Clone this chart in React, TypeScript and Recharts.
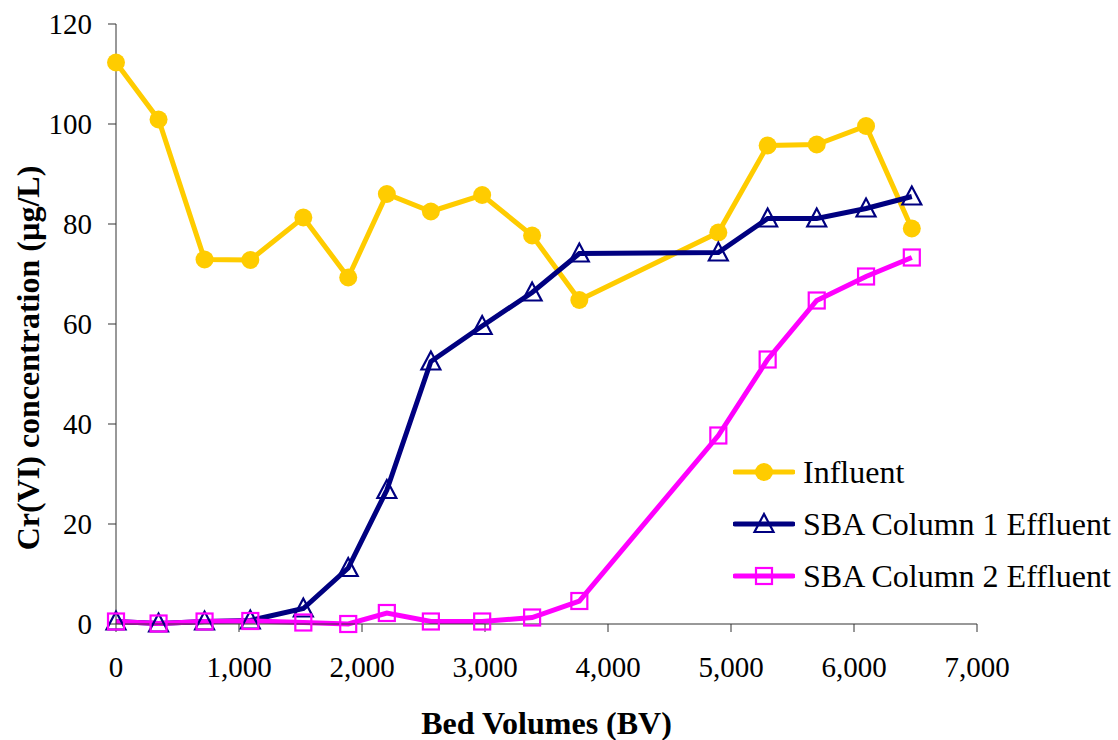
import * as React from "react"
import { LineChart, Line, XAxis, YAxis, Label } from "recharts"

// bed volumes sampled (shared by all three series)
const bedVolumes = [0, 346, 720, 1092, 1523, 1888, 2202, 2560, 2977, 3383, 3767, 4897, 5298, 5697, 6098, 6470]
const influent = [112.3, 100.9, 72.9, 72.8, 81.3, 69.3, 86.0, 82.5, 85.8, 77.7, 64.8, 78.3, 95.7, 95.9, 99.6, 79.1]
const column1 = [0.5, 0.1, 0.5, 0.7, 3.1, 11.2, 26.8, 52.5, 59.6, 66.3, 74.1, 74.3, 81.1, 81.1, 83.1, 85.5]
const column2 = [0.5, 0.1, 0.5, 0.6, 0.3, 0.0, 2.2, 0.5, 0.5, 1.3, 4.6, 37.7, 52.9, 64.7, 69.5, 73.3]

const xTicks = [0, 1000, 2000, 3000, 4000, 5000, 6000, 7000]
const yTicks = [0, 20, 40, 60, 80, 100, 120]

const seriesNames = ["Influent", "SBA Column 1 Effluent", "SBA Column 2 Effluent"]

const YELLOW = "#FFCC00"
const NAVY = "#000080"
const PINK = "#FF00FF"
const FONT = "'Liberation Serif', 'Times New Roman', serif"

const data = bedVolumes.map((bv, i) => ({
  bv,
  influent: influent[i],
  col1: column1[i],
  col2: column2[i],
}))

function Triangle({ cx, cy }: { cx: number; cy: number }) {
  return (
    <polygon
      points={`${cx},${cy - 10} ${cx - 9.5},${cy + 8} ${cx + 9.5},${cy + 8}`}
      fill="none"
      stroke={NAVY}
      strokeWidth={2.2}
    />
  )
}

function Square({ cx, cy }: { cx: number; cy: number }) {
  return <rect x={cx - 8} y={cy - 8} width={16} height={16} fill="none" stroke={PINK} strokeWidth={2.2} />
}

function LegendIcon({ idx }: { idx: number }) {
  const color = [YELLOW, NAVY, PINK][idx]
  return (
    <svg width={62} height={24} style={{ marginRight: 8, display: "block" }}>
      <line x1={2} y1={12} x2={60} y2={12} stroke={color} strokeWidth={5} strokeLinecap="round" />
      {idx === 0 && <circle cx={31} cy={12} r={9} fill={YELLOW} />}
      {idx === 1 && <Triangle cx={31} cy={12} />}
      {idx === 2 && <Square cx={31} cy={12} />}
    </svg>
  )
}

function LegendBox() {
  return (
    <div style={{ position: "absolute", left: 733, top: 446, fontFamily: FONT, fontSize: 32, color: "#000" }}>
      {seriesNames.map((name, i) => (
        <div key={name} style={{ display: "flex", alignItems: "center", height: 52, whiteSpace: "nowrap" }}>
          <LegendIcon idx={i} />
          <span>{name}</span>
        </div>
      ))}
    </div>
  )
}

const tickStyle = { fontFamily: FONT, fontSize: 29, fill: "#000" }
const titleStyle = { fontFamily: FONT, fontSize: 32, fontWeight: "bold", fill: "#000" }

export default function App() {
  return (
    <div style={{ position: "absolute", left: 0, top: 0, width: 1118, height: 740, background: "#fff" }}>
      <LineChart width={1118} height={740} data={data} margin={{ top: 24, right: 141, left: 0, bottom: 0 }}>
        <XAxis
          dataKey="bv"
          type="number"
          domain={[0, 7000]}
          ticks={xTicks}
          tickFormatter={(v: number) => v.toLocaleString("en-US")}
          height={116}
          tick={tickStyle}
          tickSize={8}
          tickMargin={24}
          stroke="#333"
        >
          <Label value="Bed Volumes (BV)" position="insideBottom" offset={6} style={titleStyle} />
        </XAxis>
        <YAxis
          type="number"
          domain={[0, 120]}
          ticks={yTicks}
          width={116}
          tick={tickStyle}
          tickSize={8}
          tickMargin={16}
          stroke="#333"
        >
          <Label
            content={() => (
              <text
                transform="translate(28,358) rotate(-90)"
                textAnchor="middle"
                dominantBaseline="central"
                style={titleStyle}
              >
                Cr(VI) concentration (µg/L)
              </text>
            )}
          />
        </YAxis>
        <Line
          dataKey="influent"
          name={seriesNames[0]}
          stroke={YELLOW}
          strokeWidth={5}
          dot={{ r: 9, fill: YELLOW, stroke: YELLOW, strokeWidth: 0 }}
          activeDot={false}
          isAnimationActive={false}
        />
        <Line
          dataKey="col1"
          name={seriesNames[1]}
          stroke={NAVY}
          strokeWidth={5}
          dot={(p: any) => <Triangle key={`t${p.index}`} cx={p.cx} cy={p.cy} />}
          activeDot={false}
          isAnimationActive={false}
        />
        <Line
          dataKey="col2"
          name={seriesNames[2]}
          stroke={PINK}
          strokeWidth={5}
          dot={(p: any) => <Square key={`s${p.index}`} cx={p.cx} cy={p.cy} />}
          activeDot={false}
          isAnimationActive={false}
        />
      </LineChart>
      <LegendBox />
    </div>
  )
}
